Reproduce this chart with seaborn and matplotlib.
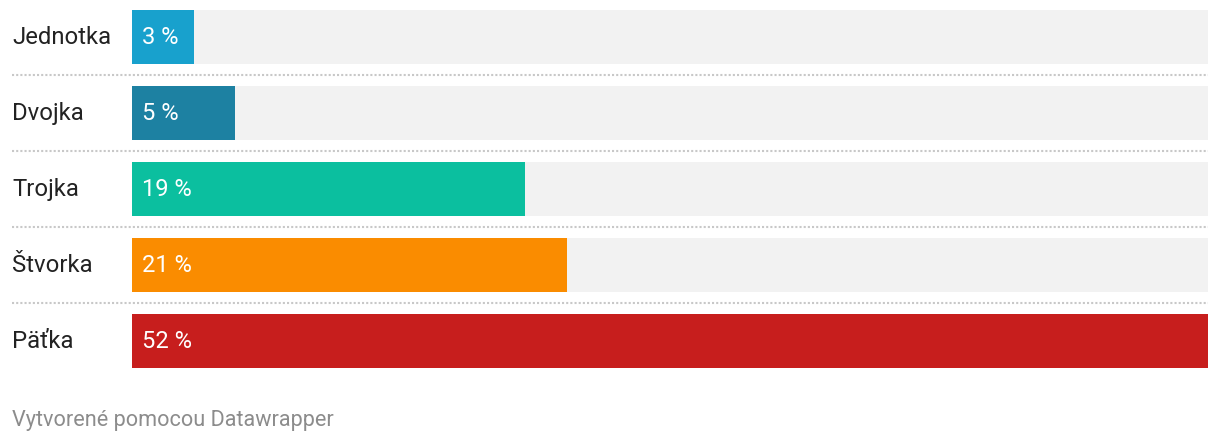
import matplotlib
matplotlib.use("Agg")
import matplotlib.pyplot as plt
import seaborn as sns
import pandas as pd

categories = ["Jednotka", "Dvojka", "Trojka", "Štvorka", "Päťka"]
values = [3, 5, 19, 21, 52]
value_labels = ["3 %", "5 %", "19 %", "21 %", "52 %"]
colors = ["#18a1cd", "#1d81a2", "#0bbf9f", "#fa8c00", "#c71e1d"]
footer = "Vytvorené pomocou Datawrapper"
xmax = 52

sns.set_style("white")
plt.rcParams["font.family"] = ["Roboto", "DejaVu Sans"]

W, H = 1220, 444
fig = plt.figure(figsize=(W / 100, H / 100), dpi=100)
left, right = 132, 1208
top_px, bot_px = -1, 379
ax = fig.add_axes([left / W, (H - bot_px) / H, (right - left) / W, (bot_px - top_px) / H])

df = pd.DataFrame({"cat": categories, "val": values, "bg": [xmax] * len(values)})

sns.barplot(data=df, x="bg", y="cat", color="#f2f2f2", saturation=1,
            width=54 / 76, ax=ax)
sns.barplot(data=df, x="val", y="cat", hue="cat", palette=colors, legend=False,
            saturation=1, width=54 / 76, ax=ax)
for p in ax.patches:
    p.set_linewidth(0)

ax.set_xlim(0, xmax)
ax.set_ylim(len(categories) - 0.5, -0.5)
ax.set_axis_off()

ytr = ax.get_yaxis_transform()
x_label = (12 - left) / (right - left)
dy = -2 / 76
for i, (c, vl) in enumerate(zip(categories, value_labels)):
    ax.text(x_label, i + dy, c, transform=ytr, ha="left", va="center_baseline",
            fontsize=17.2, color="#222222", clip_on=False)
    ax.text(10 / (right - left), i + dy, vl, transform=ytr, ha="left",
            va="center_baseline", fontsize=17, color="white")

for i in range(len(categories) - 1):
    ax.plot([x_label, 1], [i + 0.5, i + 0.5], transform=ytr, color="#c8c8c8",
            lw=1.5, linestyle=(0, (1, 1)), clip_on=False, solid_capstyle="butt",
            dash_capstyle="butt")

fig.text(12 / W, 1 - 418 / H, footer, ha="left", va="center_baseline",
         fontsize=15.6, color="#8c8c8c")

fig.savefig("out.png", dpi=100, facecolor="white")
